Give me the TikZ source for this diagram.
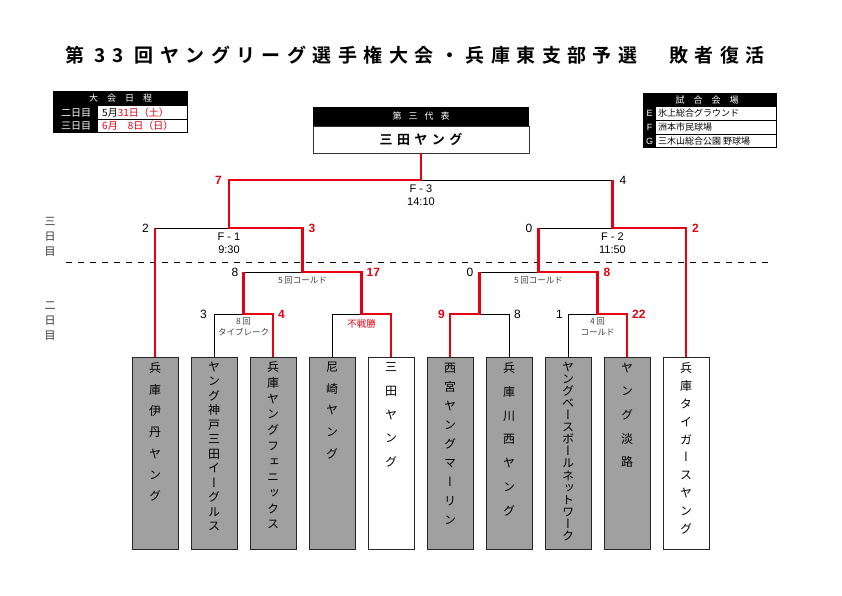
\documentclass[tikz,border=0pt]{standalone}
\usepackage{fontspec}
\usepackage{tikz}
\usetikzlibrary{positioning}
\setmainfont{Noto Sans CJK JP}[BoldFont={Noto Sans CJK JP Bold}]
\newfontfamily\vfont{Noto Sans CJK JP}[RawFeature=+vert]
\newfontfamily\spacedfont{Noto Sans CJK JP Bold}[LetterSpace=34]
\newfontfamily\numfont{Liberation Sans}
\newcommand{\tnsize}[1]{\fontsize{12pt}{#1pt}\selectfont}
\definecolor{wred}{RGB}{230,0,18}
\definecolor{boxgray}{RGB}{160,160,160}
\tikzstyle{team} = [rectangle, draw=black!85, line width=0.8pt, fill=boxgray, minimum width=46pt, minimum height=192pt, inner sep=0pt]
\tikzstyle{seed} = [team, fill=white]
\tikzstyle{tname} = [inner sep=0pt, align=center]
\tikzstyle{win} = [draw=wred, line width=2.6pt]
\tikzstyle{lose} = [draw=black, line width=0.9pt]
\tikzstyle{score} = [inner sep=0pt, font=\numfont\fontsize{12pt}{12pt}\selectfont]
\tikzstyle{wscore} = [score, text=wred, font=\numfont\bfseries\fontsize{12pt}{12pt}\selectfont]
\tikzstyle{game} = [inner sep=0pt, align=center, font=\numfont\fontsize{11pt}{13pt}\selectfont]
\tikzstyle{note} = [inner sep=0pt, align=center, text=black!75, font=\fontsize{8.5pt}{10pt}\selectfont]
\tikzstyle{tabhdr} = [inner sep=0pt, text=white, font=\fontsize{9pt}{9pt}\selectfont]
\tikzstyle{tabrow} = [inner sep=0pt, font=\fontsize{9pt}{9pt}\selectfont]
\tikzstyle{dayl} = [inner sep=0pt, align=center, text=black!80, font=\fontsize{11pt}{15pt}\selectfont]

\begin{document}
\begin{tikzpicture}[x=1pt, y=-1pt]
  \useasboundingbox (0,0) rectangle (842,595);
  \node (title) at (415,55) {\spacedfont\fontsize{19pt}{19pt}\selectfont 第 33 回ヤングリーグ選手権大会・兵庫東支部予選\hspace{32pt}敗者復活};

  % date table
  \fill[black] (53,91) rectangle (188,133);
  \fill[white] (98,106) rectangle (187,119);
  \fill[white] (98,120) rectangle (187,132);
  \node (sched) [tabhdr] at (120.5,98.5) {大\hspace{9pt}会\hspace{9pt}日\hspace{9pt}程};
  \node (day2) [tabrow, text=white, font=\fontsize{10pt}{10pt}\selectfont] at (76,112.5) {二日目};
  \node (day3) [tabrow, text=white, font=\fontsize{10pt}{10pt}\selectfont] at (76,126) {三日目};
  \node (date2) [tabrow, anchor=west, font=\fontsize{10pt}{10pt}\selectfont] at (102,112.5) {5月\textcolor{wred}{31日（土）}};
  \node (date3) [tabrow, anchor=west, text=wred, font=\fontsize{10pt}{10pt}\selectfont] at (102,126) {6月　8日（日）};

  % venue table
  \fill[black] (643,93) rectangle (777,148);
  \fill[white] (656,107) rectangle (776,120);
  \fill[white] (656,121) rectangle (776,134);
  \fill[white] (656,135) rectangle (776,147);
  \node (venue) [tabhdr] at (707,100) {試\hspace{9pt}合\hspace{9pt}会\hspace{9pt}場};
  \node (vE) [tabrow, text=white, font=\numfont\fontsize{9pt}{9pt}\selectfont] at (649.5,113.5) {E};
  \node (vF) [tabrow, text=white, font=\numfont\fontsize{9pt}{9pt}\selectfont] at (649.5,127.5) {F};
  \node (vG) [tabrow, text=white, font=\numfont\fontsize{9pt}{9pt}\selectfont] at (649.5,141) {G};
  \node (vEn) [tabrow, anchor=west] at (658,113.5) {氷上総合グラウンド};
  \node (vFn) [tabrow, anchor=west] at (658,127.5) {洲本市民球場};
  \node (vGn) [tabrow, anchor=west] at (658,141) {三木山総合公園 野球場};

  % representative
  \node (champ) [rectangle, draw=black!80, fill=white, minimum width=216pt, minimum height=27pt, font=\spacedfont\fontsize{13pt}{13pt}\selectfont] at (421,139.5) {三田ヤング};
  \node (champhdr) [rectangle, fill=black, text=white, minimum width=216pt, minimum height=19pt, inner sep=0pt, font=\fontsize{9pt}{9pt}\selectfont, above=0pt of champ] {第\hspace{7pt}三\hspace{7pt}代\hspace{7pt}表};

  % days
  \node (d3) [dayl] at (50,237) {三\\日\\目};
  \node (d2) [dayl] at (50,321) {二\\日\\目};
  \draw[black, line width=0.9pt, dash pattern=on 6pt off 6pt] (66,262) -- (770,262);

  % teams
  \node (t1) [team] at (155,453) {};
  \node (t2) [team] at (214,453) {};
  \node (t3) [team] at (273,453) {};
  \node (t4) [team] at (332,453) {};
  \node (t5) [seed] at (391,453) {};
  \node (t6) [team] at (450,453) {};
  \node (t7) [team] at (509,453) {};
  \node (t8) [team] at (568,453) {};
  \node (t9) [team] at (627,453) {};
  \node (t10) [seed] at (686,453) {};
  \node (n1) [tname, font=\vfont\tnsize{21.3}, below=6pt of t1.north] {兵\\庫\\伊\\丹\\ヤ\\ン\\グ};
  \node (n2) [tname, font=\vfont\tnsize{14.5}, below=5pt of t2.north] {ヤ\\ン\\グ\\神\\戸\\三\\田\\イ\\ー\\グ\\ル\\ス};
  \node (n3) [tname, font=\vfont\tnsize{15.7}, below=5pt of t3.north] {兵\\庫\\ヤ\\ン\\グ\\フ\\ェ\\ニ\\ッ\\ク\\ス};
  \node (n4) [tname, font=\vfont\tnsize{21.7}, below=5pt of t4.north] {尼\\崎\\ヤ\\ン\\グ};
  \node (n5) [tname, font=\vfont\tnsize{23.7}, below=6pt of t5.north] {三\\田\\ヤ\\ン\\グ};
  \node (n6) [tname, font=\vfont\tnsize{19}, below=6pt of t6.north] {西\\宮\\ヤ\\ン\\グ\\マ\\ー\\リ\\ン};
  \node (n7) [tname, font=\vfont\tnsize{23.7}, below=6pt of t7.north] {兵\\庫\\川\\西\\ヤ\\ン\\グ};
  \node (n8) [tname, font=\vfont\tnsize{12.1}, below=5pt of t8.north] {ヤ\\ン\\グ\\ベ\\ー\\ス\\ボ\\ー\\ル\\ネ\\ッ\\ト\\ワ\\ー\\ク};
  \node (n9) [tname, font=\vfont\tnsize{23.7}, below=6pt of t9.north] {ヤ\\ン\\グ\\淡\\路};
  \node (n10) [tname, font=\vfont\tnsize{17.8}, below=6pt of t10.north] {兵\\庫\\タ\\イ\\ガ\\ー\\ス\\ヤ\\ン\\グ};

  % bracket joints
  \coordinate (m1) at (243.5,314);
  \coordinate (m2) at (361.5,314);
  \coordinate (m3) at (479.5,314);
  \coordinate (m4) at (597.5,314);
  \coordinate (q1) at (302.5,272);
  \coordinate (q2) at (538.5,272);
  \coordinate (k1) at (229,228);
  \coordinate (k2) at (612.5,228);
  \coordinate (top) at (421,180);

  \draw [lose] (t2.north) |- (m1);
  \draw [lose] (t4.north) |- (m2);
  \draw [lose] (t7.north) |- (m3);
  \draw [lose] (t8.north) |- (m4);
  \draw [lose] (m1) |- (q1);
  \draw [lose] (m3) |- (q2);
  \draw [lose] (t1.north) |- (k1);
  \draw [lose] (q2) |- (k2);
  \draw [lose] (k2) |- (top);

  \draw [win] (t5.north) |- (m2) |- (q1) |- (k1) |- (top) -- (champ.south);
  \draw [win] (t1.north) -- (t1.north |- k1);
  \draw [win] (t3.north) |- (m1) -- (m1 |- q1);
  \draw [win] (t6.north) |- (m3) -- (m3 |- q2);
  \draw [win] (t9.north) |- (m4) |- (q2) -- (q2 |- k2);
  \draw [win] (t10.north) |- (k2) -- (k2 |- top);

  % scores
  \node (s1) [score, anchor=east, xshift=-7pt] at (t2.north |- m1) {3};
  \node (s2) [wscore, anchor=west, xshift=5pt] at (t3.north |- m1) {4};
  \node (s3) [wscore, anchor=east, xshift=-5pt] at (t6.north |- m3) {9};
  \node (s4) [score, anchor=west, xshift=5pt] at (t7.north |- m3) {8};
  \node (s5) [score, anchor=east, xshift=-5pt] at (t8.north |- m4) {1};
  \node (s6) [wscore, anchor=west, xshift=5pt] at (t9.north |- m4) {22};
  \node (s7) [score, anchor=east, xshift=-5pt] at (m1 |- q1) {8};
  \node (s8) [wscore, anchor=west, xshift=5pt] at (m2 |- q1) {17};
  \node (s9) [score, anchor=east, xshift=-6pt] at (m3 |- q2) {0};
  \node (s10) [wscore, anchor=west, xshift=6pt] at (m4 |- q2) {8};
  \node (s11) [score, anchor=east, xshift=-6pt] at (t1.north |- k1) {2};
  \node (s12) [wscore, anchor=west, xshift=6pt] at (q1 |- k1) {3};
  \node (s13) [score, anchor=east, xshift=-6pt] at (q2 |- k2) {0};
  \node (s14) [wscore, anchor=west, xshift=6pt] at (t10.north |- k2) {2};
  \node (s15) [wscore, anchor=east, xshift=-7pt] at (k1 |- top) {7};
  \node (s16) [score, anchor=west, xshift=7pt] at (k2 |- top) {4};

  % match notes
  \node (g1) [game, below=5pt of k1] {F - 1\\9:30};
  \node (g2) [game, below=5pt of k2] {F - 2\\11:50};
  \node (g3) [game, below=5pt of top] {F - 3\\14:10};
  \node (c1) [note, below=5pt of q1] {5\,回コールド};
  \node (c2) [note, below=5pt of q2] {5\,回コールド};
  \node (c3) [note, below=4pt of m1] {8\,回\\タイブレーク};
  \node (c4) [note, below=4pt of m4] {4\,回\\コールド};
  \node (c5) [note, text=wred, font=\fontsize{9.5pt}{10pt}\selectfont, below=5pt of m2] {不戦勝};
\end{tikzpicture}
\end{document}
